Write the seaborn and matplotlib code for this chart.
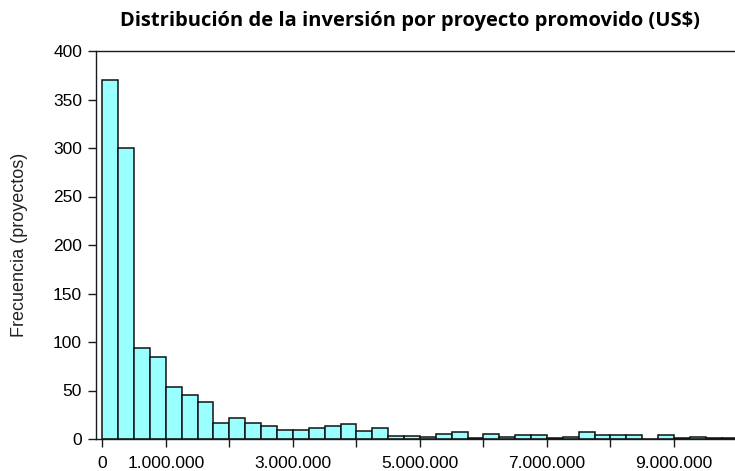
import numpy as np
import pandas as pd
import matplotlib
matplotlib.use("Agg")
import matplotlib.pyplot as plt
from matplotlib.ticker import FixedLocator, FuncFormatter
import seaborn as sns

# Histogram: bins of 250.000 US$ from 0 to 10.000.000
bin_width = 250_000
bin_starts = np.arange(0, 10_000_000, bin_width)
counts = [370, 300, 94, 85, 54, 45, 38, 17, 22, 17,
          13, 9, 9, 11, 13, 15, 8, 11, 3, 3,
          2, 5, 7, 1, 5, 2, 4, 4, 1, 2,
          7, 4, 4, 4, 0, 4, 1, 2, 1, 1]
x_ticks = np.arange(0, 10_000_000, 1_000_000)
labelled_ticks = [0, 1_000_000, 3_000_000, 5_000_000, 7_000_000, 9_000_000]
y_ticks = np.arange(0, 401, 50)

title = "Distribución de la inversión por proyecto promovido (US$)"
y_label = "Frecuencia (proyectos)"


def tick_label(value, pos):
    # Excel-style thousands separator, only every other tick labelled
    if int(round(value)) not in labelled_ticks:
        return ""
    return f"{int(round(value)):,}".replace(",", ".")


def main() -> None:
    sns.set_style("ticks")
    plt.rcParams["font.family"] = ["Liberation Sans", "DejaVu Sans"]

    df = pd.DataFrame({"inversion": bin_starts + bin_width / 2, "n": counts})

    fig = plt.figure(figsize=(7.35, 4.71), dpi=100)
    ax = fig.add_axes([96 / 735, 1 - 439 / 471, 1 - 96 / 735, (439 - 51) / 471])

    sns.histplot(data=df, x="inversion", weights="n",
                 binwidth=bin_width, binrange=(0, 10_000_000),
                 color="#99FFFF", edgecolor="#111111", linewidth=1.1,
                 alpha=1.0, ax=ax)

    ax.set_xlim(-99_000, 9_960_000)
    ax.set_ylim(0, 400)
    ax.xaxis.set_major_locator(FixedLocator(x_ticks))
    ax.xaxis.set_major_formatter(FuncFormatter(tick_label))
    ax.set_yticks(y_ticks)

    for side in ["left", "bottom", "top"]:
        ax.spines[side].set_visible(True)
        ax.spines[side].set_color("#1a1a1a")
        ax.spines[side].set_linewidth(1.0)
    ax.spines["right"].set_visible(False)

    ax.tick_params(axis="both", direction="out", length=6, width=1.0,
                   color="#1a1a1a", labelsize=12.5, labelcolor="black")
    ax.tick_params(axis="x", pad=6)
    ax.tick_params(axis="y", pad=4)

    ax.set_xlabel("")
    ax.set_ylabel(y_label, fontsize=13, color="#222222")
    ax.yaxis.set_label_coords(-0.106, 0.5)

    fig.text(410 / 735, 1 - 21 / 471, title, ha="center", va="center",
             fontsize=14.5, fontweight="bold", color="black",
             family=["Open Sans", "DejaVu Sans"])

    fig.savefig("out.png", dpi=100)


if __name__ == "__main__":
    main()
